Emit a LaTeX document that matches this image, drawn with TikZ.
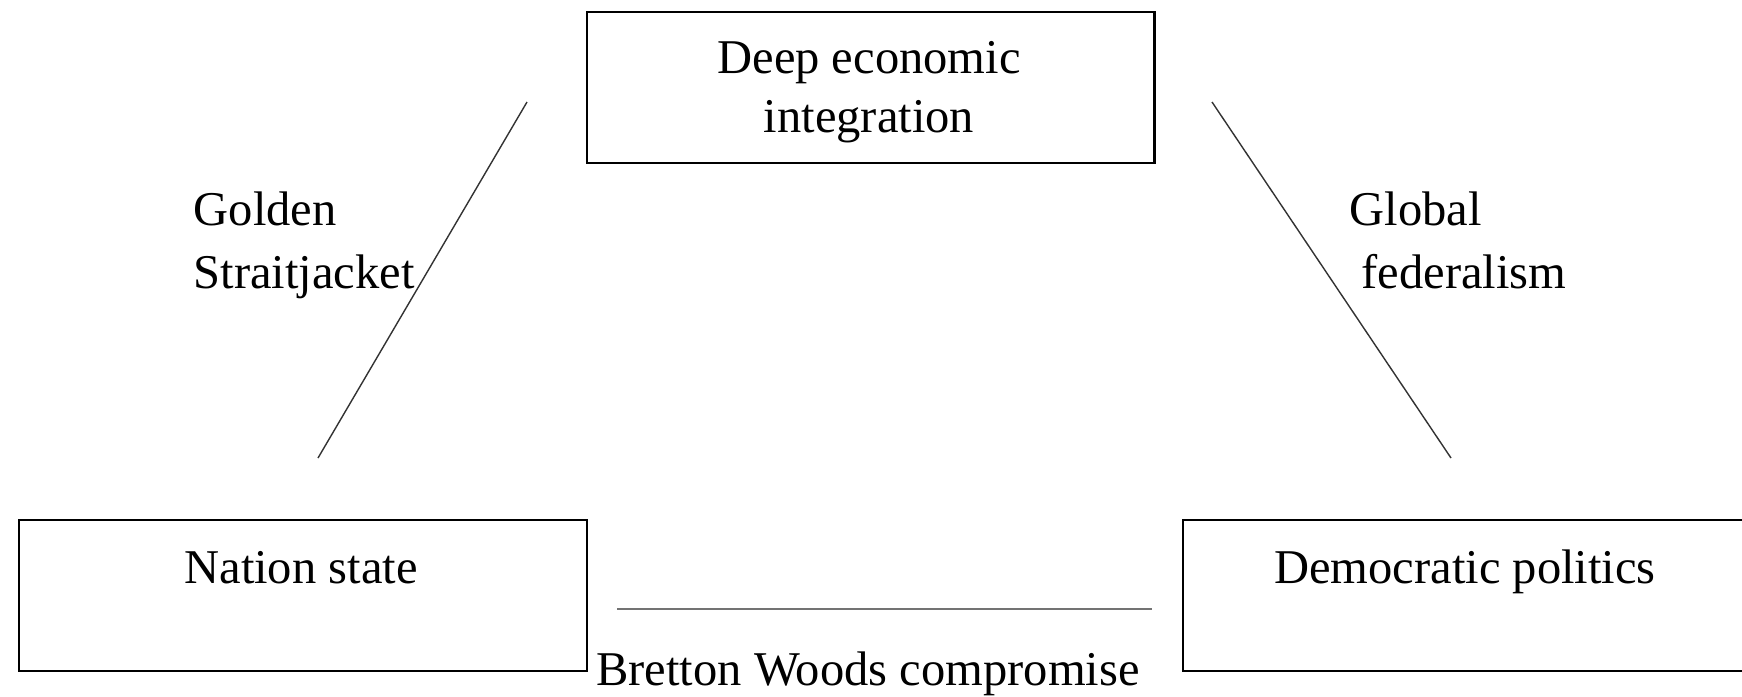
\documentclass[tikz,border=0pt]{standalone}
\usepackage{fontspec}
\setmainfont{Liberation Serif}
\begin{document}
\begin{tikzpicture}[x=0.01cm,y=-0.01cm,
  box/.style={draw, line width=0.65pt, inner sep=0pt, anchor=north west, minimum width=5.675cm, minimum height=1.51cm},
  lbl/.style={font=\fontsize{13.8}{16.6}\selectfont, inner sep=0pt},
  sidelbl/.style={lbl, font=\fontsize{13.8}{17.8}\selectfont, anchor=base west, align=left},
  tie/.style={line width=0.4pt, draw=black!80},
  bwline/.style={line width=0.7pt, draw=black!55}]
\useasboundingbox (0,0) rectangle (1742,696);
% boxes
\node[box] (dei) at (585.5,11) {};
\node[box] (ns) at (18,519) {};
\node[box] (dp) at (1182,519) {};
% box texts
\node[lbl, anchor=base, align=center] (deit) at (869,132) {Deep economic\\integration};
\node[lbl, anchor=base] (nst) at (301,583) {Nation state};
\node[lbl, anchor=base] (dpt) at (1465,583) {Democratic politics};
% edge labels
\node[sidelbl] (gs) at (193,288) {Golden\\Straitjacket};
\node[sidelbl] (gf) at (1349,288) {Global\\\hspace*{0.12cm}federalism};
\node[lbl, anchor=base] (bwc) at (868,685) {Bretton Woods compromise};
% free line ends
\coordinate (l1) at (527,102);
\coordinate (l2) at (318,458);
\coordinate (r1) at (1212,102);
\coordinate (r2) at (1451,458);
\coordinate (b1) at (617,609);
\coordinate (b2) at (1152,609);
\draw[tie] (l1) -- (l2);
\draw[tie] (r1) -- (r2);
\draw[bwline] (b1) -- (b2);
\end{tikzpicture}
\end{document}
